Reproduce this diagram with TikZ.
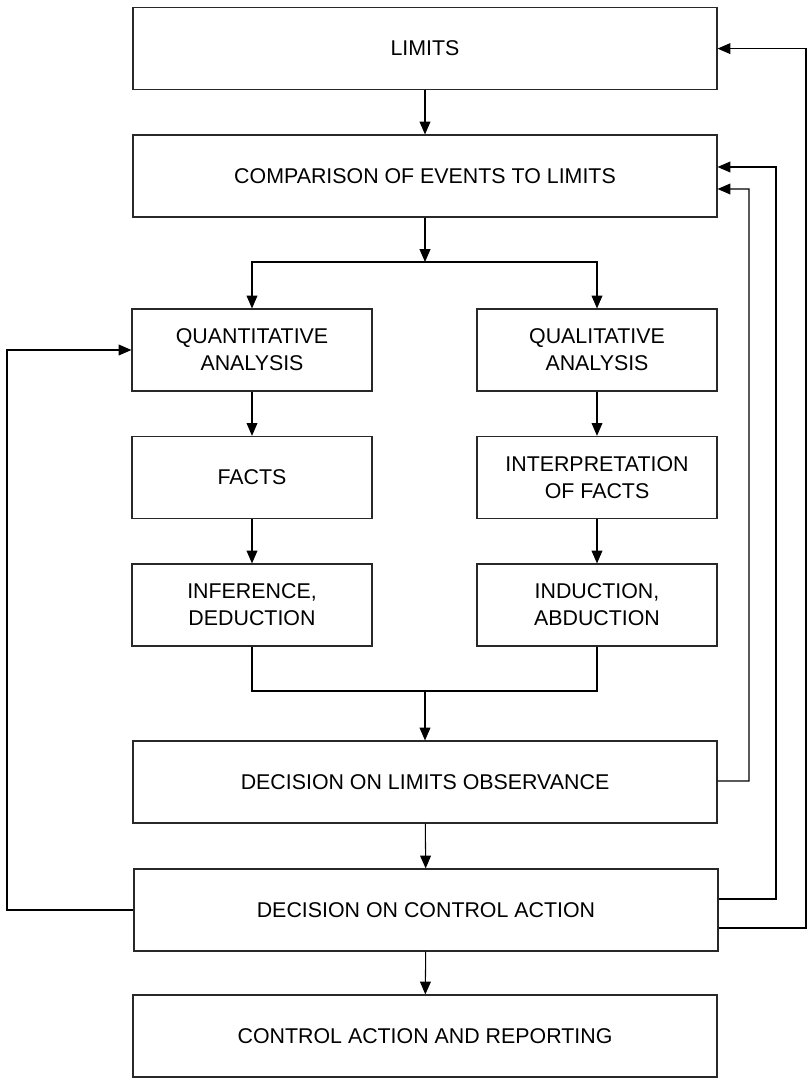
\documentclass[tikz,border=0pt]{standalone}
\usepackage{fontspec}
\setmainfont{Liberation Sans}
\usepackage{xcolor}
\usetikzlibrary{arrows.meta,positioning,calc}
\definecolor{boxline}{RGB}{40,40,40}

\begin{document}
\begin{tikzpicture}[
    every node/.style={font=\fontsize{15.2}{19}\selectfont},
    box/.style={rectangle, draw=boxline, line width=0.8pt, align=center, minimum height=2.05cm},
    widebox/.style={box, minimum width=14.6cm},
    sidebox/.style={box, minimum width=6cm},
    arrow/.style={-{Triangle[length=0.32cm,width=0.27cm]}, line width=0.75pt},
    link/.style={line width=0.75pt},
]
\useasboundingbox (0,0) rectangle (20.175,26.975);

% Main column (top)
\node[widebox] (limits) at (10.625,25.76) {LIMITS};
\node[widebox] (compare) at (10.625,22.575) {COMPARISON OF EVENTS TO LIMITS};

% Two branches
\node[sidebox] (quant) at (6.3,18.225) {QUANTITATIVE\\ANALYSIS};
\node[sidebox] (qual) at (14.925,18.225) {QUALITATIVE\\ANALYSIS};
\node[sidebox] (facts) at (6.3,15.04) {FACTS};
\node[sidebox] (interp) at (14.925,15.04) {INTERPRETATION\\OF FACTS};
\node[sidebox] (infer) at (6.3,11.85) {INFERENCE,\\DEDUCTION};
\node[sidebox] (induct) at (14.925,11.85) {INDUCTION,\\ABDUCTION};

% Main column (bottom)
\node[widebox] (observe) at (10.625,7.425) {DECISION ON LIMITS OBSERVANCE};
\node[widebox] (action) at (10.65,4.225) {DECISION ON CONTROL ACTION};
\node[widebox] (report) at (10.625,1.075) {CONTROL ACTION AND REPORTING};

% Split and merge points
\coordinate (split) at (10.625,20.425);
\coordinate (merge) at (10.625,9.7);

% Arrows down
\draw[arrow] (limits) -- (compare);
\draw[arrow] (compare) -- (split);
\draw[arrow] (split) -| (quant);
\draw[arrow] (split) -| (qual);
\draw[arrow] (quant) -- (facts);
\draw[arrow] (qual) -- (interp);
\draw[arrow] (facts) -- (infer);
\draw[arrow] (interp) -- (induct);
\draw[link] (infer.south) |- (merge) -| (induct.south);
\draw[arrow] (merge) -- (observe);
\draw[arrow] (observe) -- (action);
\draw[arrow] (action) -- (report);

% --- FEEDBACK PATHS ---
\draw[arrow] ($(observe.east)+(0,0.025)$) -| (18.725,22.25) -- ($(compare.east)+(0,-0.325)$);
\draw[arrow] ($(action.east)+(0,0.275)$) -| (19.4,22.8) -- ($(compare.east)+(0,0.225)$);
\draw[arrow] ($(action.east)+(0,-0.45)$) -| (20.15,25.76) -- (limits.east);
\draw[arrow] (action.west) -| (0.175,18.225) -- (quant.west);

\end{tikzpicture}
\end{document}
